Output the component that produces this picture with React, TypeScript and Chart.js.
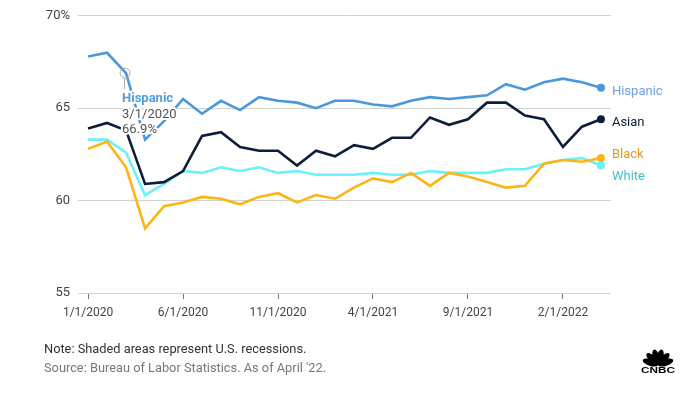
import React, { useEffect, useRef } from "react";
import { Chart, registerables } from "chart.js";

Chart.register(...registerables);

const categories = [
  "1/1/2020", "2/1/2020", "3/1/2020", "4/1/2020", "5/1/2020", "6/1/2020", "7/1/2020",
  "8/1/2020", "9/1/2020", "10/1/2020", "11/1/2020", "12/1/2020", "1/1/2021", "2/1/2021",
  "3/1/2021", "4/1/2021", "5/1/2021", "6/1/2021", "7/1/2021", "8/1/2021", "9/1/2021",
  "10/1/2021", "11/1/2021", "12/1/2021", "1/1/2022", "2/1/2022", "3/1/2022", "4/1/2022",
];

const hispanic = [67.8, 68.0, 66.9, 63.3, 64.3, 65.5, 64.7, 65.4, 64.9, 65.6, 65.4, 65.3, 65.0, 65.4,
  65.4, 65.2, 65.1, 65.4, 65.6, 65.5, 65.6, 65.7, 66.3, 66.0, 66.4, 66.6, 66.4, 66.1];
const asian = [63.9, 64.2, 63.8, 60.9, 61.0, 61.6, 63.5, 63.7, 62.9, 62.7, 62.7, 61.9, 62.7, 62.4,
  63.0, 62.8, 63.4, 63.4, 64.5, 64.1, 64.4, 65.3, 65.3, 64.6, 64.4, 62.9, 64.0, 64.4];
const black = [62.8, 63.2, 61.8, 58.5, 59.7, 59.9, 60.2, 60.1, 59.8, 60.2, 60.4, 59.9, 60.3, 60.1,
  60.7, 61.2, 61.0, 61.5, 60.8, 61.5, 61.3, 61.0, 60.7, 60.8, 62.0, 62.2, 62.1, 62.3];
const white = [63.3, 63.3, 62.6, 60.3, 60.9, 61.6, 61.5, 61.8, 61.6, 61.8, 61.5, 61.6, 61.4, 61.4,
  61.4, 61.5, 61.4, 61.4, 61.6, 61.5, 61.5, 61.5, 61.7, 61.7, 62.0, 62.2, 62.3, 61.9];

const xTickIndices = [0, 5, 10, 15, 20, 25];
const xTickLabels = ["1/1/2020", "6/1/2020", "11/1/2020", "4/1/2021", "9/1/2021", "2/1/2022"];
const yTickValues = [55, 60, 65, 70];
const yTickLabels = ["55", "60", "65", "70%"];

const seriesNames = ["Asian", "Hispanic", "Black", "White"];
const calloutIndex = 2;
const calloutValueText = "66.9%";

const FONT = "Roboto, 'Open Sans', sans-serif";

export default function App() {
  const ref = useRef<HTMLCanvasElement | null>(null);

  useEffect(() => {
    if (!ref.current) return;
    const lineColors = ["#0c1e3a", "#4a98db", "#fdb515", "#6cf0fa"];
    const labelColors = ["#0c1e3a", "#6f9eea", "#e39b1b", "#3cc1d2"];
    const labelOffsets = [3.5, 3.6, -3.4, 11.7];
    const seriesData = [asian, hispanic, black, white];

    const endLabels = {
      id: "endLabels",
      afterDatasetsDraw(chart: any) {
        const ctx = chart.ctx;
        ctx.save();
        const hMeta = chart.getDatasetMeta(1);
        const p = hMeta.data[calloutIndex];
        if (p) {
          ctx.strokeStyle = "#aaaaaa";
          ctx.lineWidth = 1;
          ctx.beginPath();
          ctx.arc(p.x - 1, p.y, 5, 0, Math.PI * 2);
          ctx.stroke();
          ctx.beginPath();
          ctx.moveTo(p.x - 1.5, p.y + 5);
          ctx.lineTo(p.x - 1.5, p.y + 16);
          ctx.stroke();
          const tx = p.x - 4;
          ctx.textAlign = "left";
          ctx.textBaseline = "middle";
          ctx.lineJoin = "round";
          const lines = [
            { t: seriesNames[1], f: `bold 13px ${FONT}`, c: "#4f9de0", dy: 26 },
            { t: categories[calloutIndex], f: `13px ${FONT}`, c: "#555555", dy: 42 },
            { t: calloutValueText, f: `13px ${FONT}`, c: "#555555", dy: 57 },
          ];
          for (const l of lines) {
            ctx.font = l.f;
            ctx.strokeStyle = "#ffffff";
            ctx.lineWidth = 4;
            ctx.strokeText(l.t, tx, p.y + l.dy);
            ctx.fillStyle = l.c;
            ctx.fillText(l.t, tx, p.y + l.dy);
          }
        }
        ctx.font = `13px ${FONT}`;
        ctx.textAlign = "left";
        ctx.textBaseline = "middle";
        chart.data.datasets.forEach((ds: any, i: number) => {
          const meta = chart.getDatasetMeta(i);
          const last = meta.data[meta.data.length - 1];
          if (!last) return;
          ctx.fillStyle = labelColors[i];
          ctx.fillText(seriesNames[i], last.x + 11, last.y + labelOffsets[i]);
        });
        ctx.restore();
      },
    };

    const chart = new Chart(ref.current, {
      type: "line",
      data: {
        datasets: seriesData.map((arr, i) => ({
          label: seriesNames[i],
          data: arr.map((v, j) => ({ x: j, y: v })),
          borderColor: lineColors[i],
          backgroundColor: lineColors[i],
          borderWidth: 2.6,
          tension: 0,
          pointRadius: (c: any) => (c.dataIndex === arr.length - 1 ? 4 : 0),
          pointHoverRadius: 0,
          pointBorderWidth: 0,
        })),
      },
      options: {
        animation: false,
        responsive: false,
        maintainAspectRatio: false,
        devicePixelRatio: 1,
        events: [],
        layout: { padding: { left: 0, right: 74, top: 15, bottom: 0 } },
        plugins: { legend: { display: false }, tooltip: { enabled: false } },
        scales: {
          x: {
            type: "linear",
            min: -0.53,
            max: 27.53,
            afterBuildTicks: (s: any) => {
              s.ticks = xTickIndices.map((v) => ({ value: v }));
            },
            afterFit: (s: any) => {
              s.height = 101;
            },
            ticks: {
              autoSkip: false,
              maxRotation: 0,
              padding: 7,
              color: "#444444",
              font: { family: FONT, size: 12 },
              callback: (_v: any, idx: number) => xTickLabels[idx],
            },
            grid: {
              display: true,
              drawOnChartArea: false,
              drawTicks: true,
              tickLength: 6,
              color: "#777777",
              lineWidth: 1,
            },
            border: { display: false },
          },
          y: {
            type: "linear",
            min: 55,
            max: 70,
            afterBuildTicks: (s: any) => {
              s.ticks = yTickValues.map((v) => ({ value: v }));
            },
            afterFit: (s: any) => {
              s.width = 78;
            },
            ticks: {
              padding: 8,
              color: "#444444",
              font: { family: FONT, size: 13 },
              callback: (_v: any, idx: number) => yTickLabels[idx],
            },
            grid: { color: "#d3d3d3", lineWidth: 1, drawTicks: false },
            border: { display: false },
          },
        },
      },
      plugins: [endLabels],
    });
    return () => chart.destroy();
  }, []);

  return (
    <div style={{ position: "absolute", left: 0, top: 0, width: 685, height: 394, background: "#fff", fontFamily: FONT }}>
      <canvas ref={ref} width={685} height={394} style={{ position: "absolute", left: 0, top: 0, width: 685, height: 394 }} />
      <div style={{ position: "absolute", left: 44, top: 341, fontSize: 12.8, color: "#333333", whiteSpace: "nowrap", lineHeight: "16px" }}>
        Note: Shaded areas represent U.S. recessions.
      </div>
      <div style={{ position: "absolute", left: 44, top: 360, fontSize: 12.8, color: "#777777", whiteSpace: "nowrap", lineHeight: "16px" }}>
        Source: Bureau of Labor Statistics. As of April '22.
      </div>
      <svg style={{ position: "absolute", left: 640, top: 347 }} width={36} height={26} viewBox="0 0 36 26">
        <g fill="#000">
          {[-72, -44, -14, 14, 44, 72].map((a, i) => (
            <ellipse key={i} cx={18} cy={10} rx={3.4} ry={8} transform={`rotate(${a} 18 18)`} />
          ))}
        </g>
        <text x={18} y={25.5} textAnchor="middle" fontSize={9} fontWeight="900" fontFamily="'Liberation Sans', Arial, sans-serif" textLength={34} lengthAdjust="spacingAndGlyphs" fill="#000">CNBC</text>
      </svg>
    </div>
  );
}
